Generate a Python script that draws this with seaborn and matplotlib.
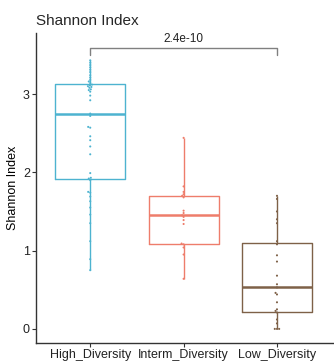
import numpy as np
import pandas as pd
import matplotlib
matplotlib.use('Agg')
import matplotlib.pyplot as plt
import seaborn as sns

GROUPS = ['High_Diversity', 'Interm_Diversity', 'Low_Diversity']
COLORS = ['#4DB3D0', '#EE7D6B', '#7E6148']

high_vals = [3.43, 3.40, 3.37, 3.34, 3.31, 3.28,
             3.24, 3.21, 3.18, 3.16, 3.14, 3.12, 3.11, 3.10, 3.09, 3.08,
             3.06, 3.05, 3.03, 2.98, 2.92, 2.75, 2.72,
             2.58, 2.57, 2.46, 2.41, 2.33, 2.23, 1.99, 1.93, 1.92, 1.90,
             1.75, 1.74, 1.69, 1.63, 1.55, 1.46, 1.35, 1.12, 0.89, 0.75]
interm_vals = [2.44, 1.82, 1.75, 1.72, 1.70, 1.68, 1.51, 1.48, 1.45,
               1.43, 1.39, 1.34, 1.09, 1.08, 1.04, 0.95, 0.64]
low_vals = [1.70, 1.66, 1.50, 1.40, 1.35, 1.12, 1.08, 0.94, 0.86, 0.68,
            0.57, 0.53, 0.46, 0.44, 0.34, 0.25, 0.23, 0.21, 0.12, 0.07,
            0.0, 0.0, 0.0]

P_LABEL = '2.4e-10'

data = pd.DataFrame({
    'group': ([GROUPS[0]] * len(high_vals) + [GROUPS[1]] * len(interm_vals)
              + [GROUPS[2]] * len(low_vals)),
    'shannon': high_vals + interm_vals + low_vals,
})

sns.set_style('white')
plt.rcParams['font.family'] = ['Liberation Sans', 'DejaVu Sans']

fig = plt.figure(figsize=(3.34, 3.62), dpi=100)
ax = fig.add_axes([0.108, 0.0525, 0.889, 0.8565])

palette = dict(zip(GROUPS, COLORS))
sns.boxplot(data=data, x='group', y='shannon', hue='group', palette=palette,
            order=GROUPS, fill=False, width=0.75, showfliers=False,
            showcaps=False, linewidth=1.0, medianprops={'linewidth': 1.8},
            legend=False, ax=ax)
sns.swarmplot(data=data, x='group', y='shannon', hue='group', palette=palette,
              order=GROUPS, size=1.5, legend=False, ax=ax)

# significance bracket between first and last group
y_br, y_tick = 3.59, 3.50
ax.plot([0, 0, 2, 2], [y_tick, y_br, y_br, y_tick], color='#808080', lw=1.0,
        clip_on=False)
ax.text(1, y_br + 0.04, P_LABEL, ha='center', va='bottom', fontsize=8.5,
        color='#222222')

ax.set_xlim(-0.58, 2.6)
ax.set_ylim(-0.18, 3.78)
ax.set_yticks([0, 1, 2, 3])
ax.set_xlabel('')
ax.set_ylabel('Shannon Index', fontsize=9, color='black', labelpad=3)
ax.set_title('Shannon Index', loc='left', fontsize=11, pad=6)
ax.tick_params(axis='both', which='both', direction='out', length=3,
               width=0.8, colors='#333333', labelsize=9, labelcolor='#222222',
               bottom=True, left=True, pad=1.5)
for side in ['top', 'right']:
    ax.spines[side].set_visible(False)
for side in ['left', 'bottom']:
    ax.spines[side].set_color('#333333')
    ax.spines[side].set_linewidth(1.0)

fig.savefig('out.png', dpi=100)
